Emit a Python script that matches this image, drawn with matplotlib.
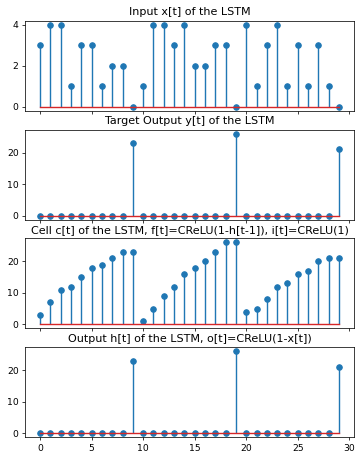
import numpy as np
import matplotlib
matplotlib.use("Agg")
import matplotlib.pyplot as plt

t = np.arange(30)

# input sequence
x = [3, 4, 4, 1, 3, 3, 1, 2, 2, 0,
     1, 4, 4, 3, 4, 2, 2, 3, 3, 0,
     4, 1, 3, 4, 1, 3, 1, 3, 1, 0]

# target output
y = [0, 0, 0, 0, 0, 0, 0, 0, 0, 23,
     0, 0, 0, 0, 0, 0, 0, 0, 0, 26,
     0, 0, 0, 0, 0, 0, 0, 0, 0, 21]

# cell state
c = [3, 7, 11, 12, 15, 18, 19, 21, 23, 23,
     1, 5, 9, 12, 16, 18, 20, 23, 26, 26,
     4, 5, 8, 12, 13, 16, 17, 20, 21, 21]

# output
h = [0, 0, 0, 0, 0, 0, 0, 0, 0, 23,
     0, 0, 0, 0, 0, 0, 0, 0, 0, 26,
     0, 0, 0, 0, 0, 0, 0, 0, 0, 21]

titles = [
    "Input x[t] of the LSTM",
    "Target Output y[t] of the LSTM",
    "Cell c[t] of the LSTM, f[t]=CReLU(1-h[t-1]), i[t]=CReLU(1)",
    "Output h[t] of the LSTM, o[t]=CReLU(1-x[t])",
]

dpi = 67
fig, axes = plt.subplots(4, 1, sharex=True, figsize=(359 / dpi, 454 / dpi), dpi=dpi)
for ax, data, title in zip(axes, [x, y, c, h], titles):
    ax.stem(t, data)
    ax.set_title(title)

fig.subplots_adjust(left=0.07, right=0.986, top=0.954, bottom=0.037, hspace=0.208)
fig.savefig("out.png", dpi=dpi)
